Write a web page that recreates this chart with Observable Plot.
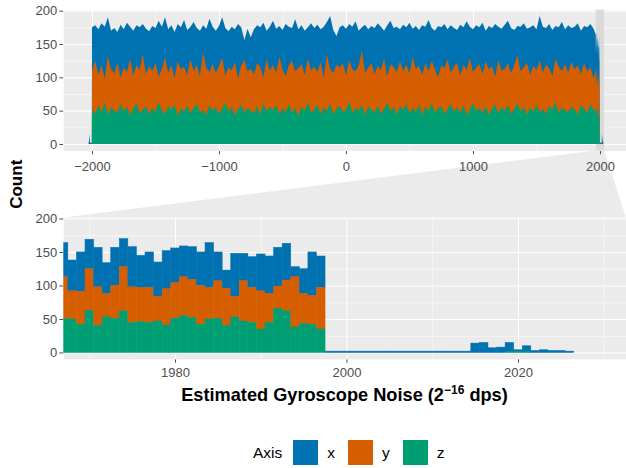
<!DOCTYPE html>
<html><head><meta charset="utf-8">
<script src="https://cdn.jsdelivr.net/npm/d3@7"></script>
<script src="https://cdn.jsdelivr.net/npm/@observablehq/plot@0.6"></script>
<style>
body{margin:0;background:#fff;font-family:"Liberation Sans",Arial,Helvetica,sans-serif;}
#wrap{position:relative;width:626px;height:468px;overflow:hidden;background:#fff;}
#wrap > *{position:absolute;left:0;}
#xtitle{top:385px;width:626px;padding-left:63px;box-sizing:border-box;text-align:center;font-weight:bold;font-size:18.2px;color:#000;white-space:nowrap;}
#xtitle sup{font-size:12px;vertical-align:0;position:relative;top:-7px;}
#legend{top:440px;left:253px !important;display:flex;align-items:center;font-size:15.5px;color:#000;}
#legend .key{width:25px;height:25px;display:inline-block;}
#legend .lab{margin:0 13px 0 9px;}
</style></head><body><div id="wrap"></div>
<script>
// ---------- data ----------
const axes = ["x", "y", "z"];
const axisColors = ["#0072B2", "#D55E00", "#009E73"];

// Overview panel: stacked-bar top edges sampled every 25 units (-2000 .. 1950)
const overviewPos = d3.range(-2000, 1951, 25);
const overviewTotal = [
175,178,172,181,176,190,170,174,168,179,
172,182,176,170,178,175,180,173,169,177,
174,185,176,190,172,178,168,180,175,186,
171,176,183,174,170,178,173,188,176,170,
177,190,174,169,176,172,180,175,156,173,
160,172,178,175,182,170,176,185,173,177,
171,180,176,174,187,172,178,170,175,181,
174,179,172,176,183,192,171,162,175,178,
173,180,176,184,170,175,179,172,177,174,
181,176,170,178,185,174,176,172,179,175,
182,173,177,171,178,176,186,174,170,177,
175,180,172,178,174,171,179,175,184,176,
172,178,175,182,170,177,174,180,176,173,
179,185,174,171,177,176,181,173,175,178,
172,192,176,174,180,171,177,175,183,172,
178,174,176,181,170,177,175,180,173];
const overviewYZ = [
110,125,104,118,98,132,112,106,121,100,
115,108,128,103,119,111,135,105,117,109,
122,101,113,130,107,118,99,124,112,116,
104,127,110,119,102,138,114,108,120,106,
117,129,103,115,111,123,98,118,126,109,
113,105,121,116,100,127,110,119,107,131,
112,102,118,125,109,114,120,104,128,111,
116,108,123,100,134,113,106,119,115,121,
103,126,112,109,118,140,107,114,122,105,
117,111,128,102,120,115,108,124,110,119,
106,130,113,117,104,121,109,125,112,100,
118,114,127,107,116,122,103,119,111,129,
108,115,120,105,124,112,117,101,126,110,
113,121,106,118,133,109,115,122,104,117,
111,125,108,119,114,102,128,116,110,120,
107,123,112,118,105,121,109,115,98];
const overviewZ = [
52,45,58,48,62,44,55,50,47,60,
49,56,43,53,61,46,51,57,44,54,
48,63,50,45,56,52,59,42,53,49,
57,46,54,60,47,51,44,58,50,55,
45,53,62,48,56,43,52,59,47,54,
50,46,57,44,61,49,55,51,58,45,
53,48,60,47,54,42,56,50,63,46,
52,58,45,55,49,61,44,53,57,48,
51,64,46,54,50,59,43,56,52,47,
58,45,53,62,49,55,44,57,51,60,
46,54,48,59,43,56,50,61,47,53,
57,45,52,60,48,55,46,58,44,51,
62,49,54,47,57,43,53,59,46,55,
50,58,45,52,61,48,56,44,54,49,
59,47,53,45,57,51,63,46,55,50,
48,56,52,44,58,53,47,60,51];

// Left tail bins (-2027 .. -2001), x axis only
const leftTailBins = d3.range(-2027, -2000);
const leftTailX = [2,3,3,4,3,10,4,15,8,7,15,14,2,2,2,2,2,2,2,2,2,2,2,2,2,2,2];

// Zoomed panel: single-unit bins 1967 .. 2026
const fineBins = d3.range(1967, 2027);
const fineX = [51,46,59,44,59,46,57,42,60,48,53,51,57,52,46,49,50,67,43,27,64,41,46,55,56,58,55,15,37,65,47,
  2,2,2,2,2,2,2,2,2,2,2,2,2,2,2,2,2,
  14,15,7,8,14,3,9,3,4,3,3,2];
const fineY = [62,42,49,62,58,35,49,66,53,51,52,37,54,53,58,57,58,47,56,56,31,60,52,57,43,33,46,75,45,43,62,
  0,0,0,0,0,0,0,0,0,0,0,0,0,0,0,0,0,
  0,0,0,0,0,0,0,0,0,0,0,0];
const fineZ = [51,50,42,63,40,53,51,62,45,46,45,47,41,51,55,52,42,50,51,40,53,47,45,35,45,66,62,38,43,42,35,
  0,0,0,0,0,0,0,0,0,0,0,0,0,0,0,0,0,
  0,0,0,0,1,1,1,0,0,0,0,0];

const topXTicks = [-2000, -1000, 0, 1000, 2000];
const topXMinor = [-1500, -500, 500, 1500];
const zoomXTicks = [1980, 2000, 2020];
const zoomXMinor = [1970, 1990, 2010, 2030];
const yTicks = [0, 50, 100, 150, 200];
const yMinor = [25, 75, 125, 175];
const yDomain = [-9.6, 201.6];
const topXDomain = [-2226, 2205];
const zoomRange = [1966.97, 2032.6];

// ---------- build ----------
const fmt = d => (d < 0 ? "\u2212" : "") + Math.abs(d);
const font = "'Liberation Sans', Arial, Helvetica, sans-serif";
const baseStyle = {background: "transparent", fontFamily: font, fontSize: "13px", color: "#4D4D4D", overflow: "visible"};

const overviewRows = []
  .concat(leftTailBins.map((b, i) => ({pos: b, t: leftTailX[i], yz: 0, z: 0})))
  .concat(overviewPos.map((p, i) => ({pos: p, t: overviewTotal[i], yz: overviewYZ[i], z: overviewZ[i]})))
  .concat(fineBins.map((b, i) => ({pos: b, t: fineX[i] + fineY[i] + fineZ[i], yz: fineY[i] + fineZ[i], z: fineZ[i]})));

const fineRows = [];
fineBins.forEach((b, i) => {
  fineRows.push({bin: b, axis: "x", count: fineX[i]});
  fineRows.push({bin: b, axis: "y", count: fineY[i]});
  fineRows.push({bin: b, axis: "z", count: fineZ[i]});
});

function gridMarks(xMajor, xMinor) {
  return [
    Plot.frame({fill: "#EBEBEB", stroke: null}),
    Plot.ruleY(yMinor, {stroke: "white", strokeWidth: 0.55}),
    Plot.ruleX(xMinor, {stroke: "white", strokeWidth: 0.55}),
    Plot.ruleY(yTicks, {stroke: "white", strokeWidth: 1.1}),
    Plot.ruleX(xMajor, {stroke: "white", strokeWidth: 1.1})
  ];
}

const topPlot = Plot.plot({
  width: 626, height: 178,
  marginLeft: 63.3, marginRight: 0, marginTop: 9.6, marginBottom: 27.6,
  style: baseStyle,
  x: {domain: topXDomain, ticks: topXTicks, tickFormat: fmt, tickSize: 3.9, tickPadding: 7, label: null},
  y: {domain: yDomain, ticks: yTicks, tickSize: 3.9, tickPadding: 2.6, label: null},
  marks: [
    ...gridMarks(topXTicks, topXMinor),
    Plot.rect([{a: zoomRange[0], b: zoomRange[1]}], {x1: "a", x2: "b", fill: "#DADADA"}),
    Plot.areaY(overviewRows, {x: "pos", y: "t", fill: axisColors[0]}),
    Plot.areaY(overviewRows, {x: "pos", y: "yz", fill: axisColors[1]}),
    Plot.areaY(overviewRows, {x: "pos", y: "z", fill: axisColors[2]})
  ]
});

const bottomTop = 210;
const bottomPlot = Plot.plot({
  width: 626, height: 176,
  marginLeft: 63.3, marginRight: 0, marginTop: 7.4, marginBottom: 27.1,
  style: baseStyle,
  color: {domain: axes, range: axisColors},
  x: {domain: zoomRange, ticks: zoomXTicks, tickFormat: d => String(d), tickSize: 3.9, tickPadding: 4, label: null},
  y: {domain: yDomain, ticks: yTicks, tickSize: 3.9, tickPadding: 2.6, label: null},
  marks: [
    ...gridMarks(zoomXTicks, zoomXMinor),
    Plot.rectY(fineRows, {x1: d => d.bin - 0.5, x2: d => d.bin + 0.5, y: "count", fill: "axis", stroke: "axis", strokeWidth: 0.5, order: ["z", "y", "x"], clip: true})
  ]
});

const wrap = document.getElementById("wrap");

// zoom connector + y title
const tx = topPlot.scale("x"), ty = topPlot.scale("y");
const bx = bottomPlot.scale("x"), by = bottomPlot.scale("y");
const yTopBottomEdge = ty.apply(yDomain[0]);
const yBottomTopEdge = bottomTop + by.apply(yDomain[1]);
const overlay = d3.create("svg").attr("width", 626).attr("height", 468).style("top", "0px");
overlay.append("polygon")
  .attr("points", [
    [tx.apply(zoomRange[0]), yTopBottomEdge],
    [tx.apply(zoomRange[1]), yTopBottomEdge],
    [bx.apply(zoomRange[1]), yBottomTopEdge],
    [bx.apply(zoomRange[0]), yBottomTopEdge]
  ].map(p => p.join(",")).join(" "))
  .attr("fill", "#EBEBEB");
overlay.append("text")
  .attr("transform", "translate(22," + ((9.6 + 358.9) / 2) + ") rotate(-90)")
  .attr("text-anchor", "middle")
  .attr("font-family", font).attr("font-weight", "bold").attr("font-size", 17)
  .text("Count");
wrap.appendChild(overlay.node());

topPlot.style.position = "absolute"; topPlot.style.top = "0px";
bottomPlot.style.position = "absolute"; bottomPlot.style.top = bottomTop + "px";
wrap.appendChild(topPlot);
wrap.appendChild(bottomPlot);

const xt = document.createElement("div");
xt.id = "xtitle";
xt.innerHTML = "Estimated Gyroscope Noise (2<sup>\u221216</sup> dps)";
wrap.appendChild(xt);

const lg = document.createElement("div");
lg.id = "legend";
let html = '<span style="margin-right:11px">Axis</span>';
axes.forEach((a, i) => {
  html += '<span class="key" style="background:' + axisColors[i] + '"></span><span class="lab">' + a + '</span>';
});
lg.innerHTML = html;
wrap.appendChild(lg);
</script></body></html>
